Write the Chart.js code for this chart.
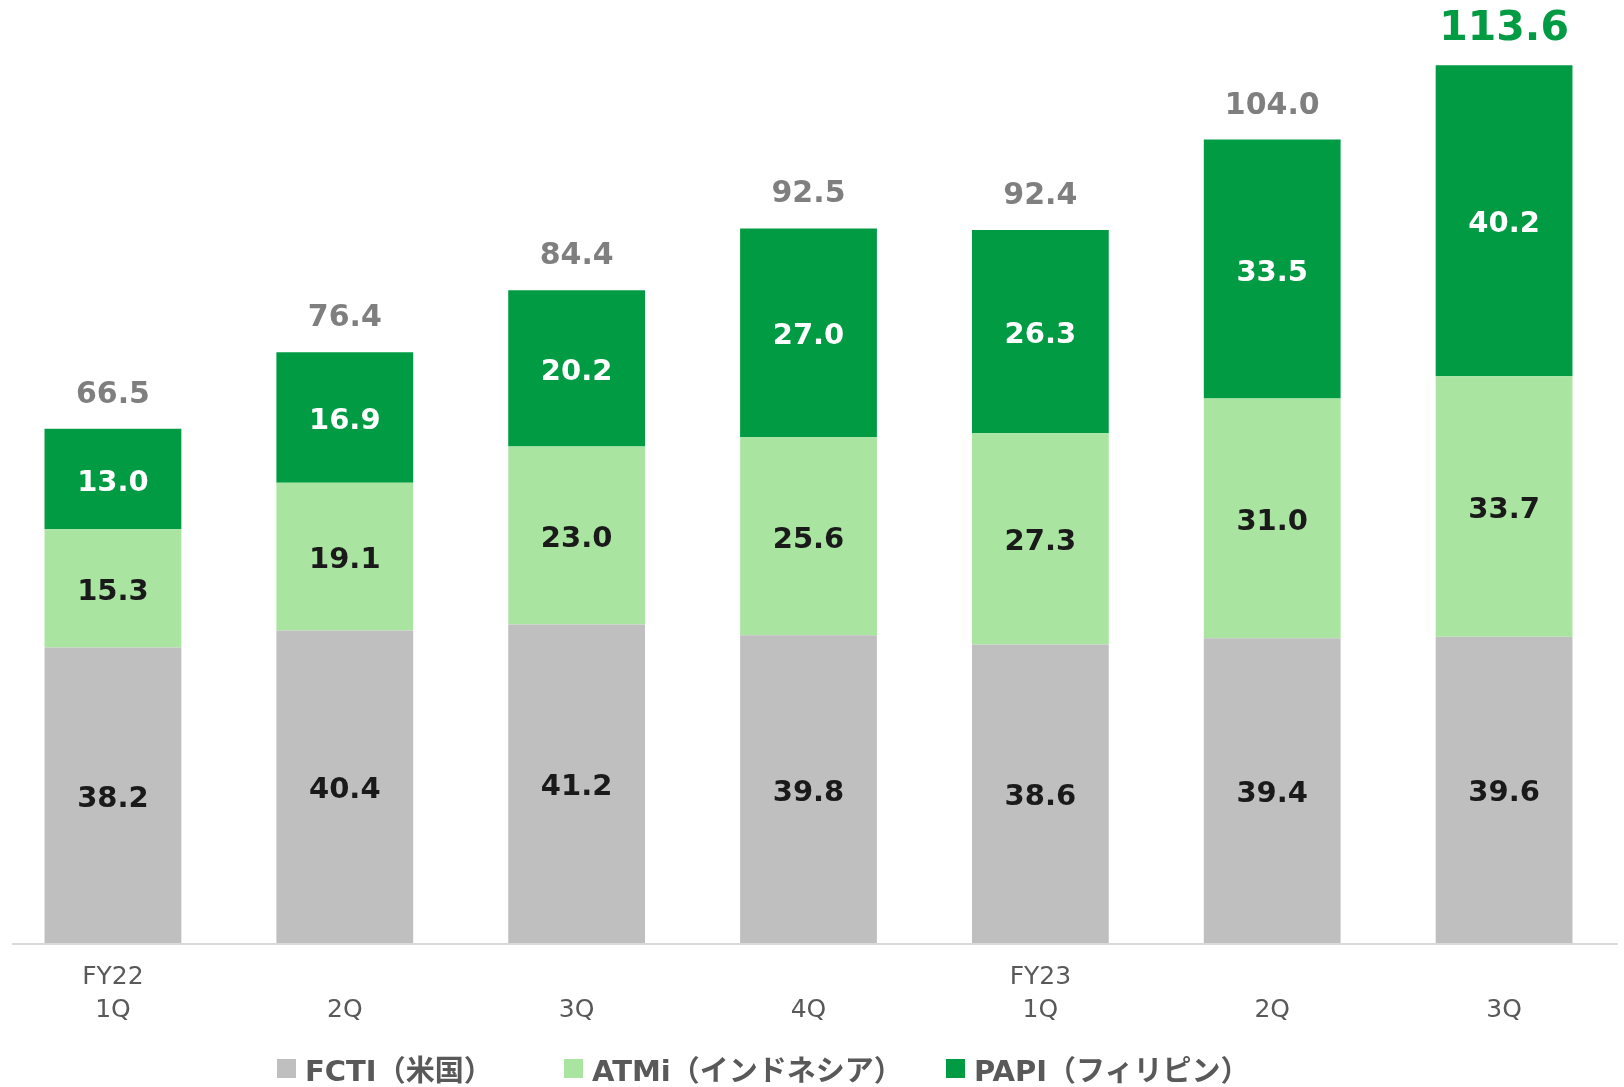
<!DOCTYPE html>
<html lang="ja">
<head>
<meta charset="utf-8">
<script src="https://cdn.jsdelivr.net/npm/chart.js@4/dist/chart.umd.min.js"></script>
<style>
  html, body { margin: 0; padding: 0; background: #fff; }
  #wrap { position: relative; width: 1624px; height: 1087px; overflow: hidden; }
  #chart { position: absolute; left: -3px; top: 0; }
  #legend { position: absolute; left: 0; top: 1052px; width: 1624px; height: 32px;
    font-family: 'DejaVu Sans', 'Noto Sans CJK JP', sans-serif; font-weight: bold; font-size: 29px; color: #595959; }
  .item { position: absolute; top: 0; display: flex; align-items: center; height: 32px; white-space: nowrap; }
  .item i { display: inline-block; width: 19px; height: 19px; margin-right: 9px; }
</style>
</head>
<body>
<div id="wrap">
  <canvas id="chart" width="1627" height="1087"></canvas>
  <div id="legend"></div>
</div>
<script>
// 四半期ごとの内訳（単位は読み取り値）
const periods = [['FY22', '1Q'], ['', '2Q'], ['', '3Q'], ['', '4Q'], ['FY23', '1Q'], ['', '2Q'], ['', '3Q']];
const fcti = [38.2, 40.4, 41.2, 39.8, 38.6, 39.4, 39.6];
const atmi = [15.3, 19.1, 23.0, 25.6, 27.3, 31.0, 33.7];
const papi = [13.0, 16.9, 20.2, 27.0, 26.3, 33.5, 40.2];
const totals = [66.5, 76.4, 84.4, 92.5, 92.4, 104.0, 113.6];
const seriesNames = ['FCTI（米国）', 'ATMi（インドネシア）', 'PAPI（フィリピン）'];

const colors = ['#BFBFBF', '#A9E5A0', '#009B43'];
const textColors = ['#1A1A1A', '#1A1A1A', '#FFFFFF'];
const FONT = "'DejaVu Sans', 'Noto Sans CJK JP', sans-serif";

/**
 * 棒の中と上に数値を描くプラグイン
 */
const valueLabels = {
  id: 'valueLabels',
  afterDatasetsDraw(chart) {
    const ctx = chart.ctx;
    ctx.save();
    ctx.textAlign = 'center';
    chart.data.datasets.forEach((ds, di) => {
      const meta = chart.getDatasetMeta(di);
      meta.data.forEach((bar, i) => {
        ctx.font = 'bold 29px ' + FONT;
        ctx.fillStyle = textColors[di];
        ctx.textBaseline = 'middle';
        ctx.fillText(ds.data[i].toFixed(1), bar.x, (bar.y + bar.base) / 2 + 4);
      });
    });
    // 合計
    const top = chart.getDatasetMeta(chart.data.datasets.length - 1);
    top.data.forEach((bar, i) => {
      const last = i === totals.length - 1;
      ctx.font = 'bold ' + (last ? 41 : 30) + 'px ' + FONT;
      ctx.fillStyle = last ? '#009B43' : '#7F7F7F';
      ctx.textBaseline = 'alphabetic';
      ctx.fillText(totals[i].toFixed(1), bar.x, bar.y - (last ? 25 : 26));
    });
    ctx.restore();
  }
};

/**
 * 下の軸線（キャンバスは左に3px ずらしてある）
 */
const baseLine = {
  id: 'baseLine',
  afterDatasetsDraw(chart) {
    const ctx = chart.ctx;
    const y = chart.scales.y.getPixelForValue(0);
    ctx.save();
    ctx.strokeStyle = '#D9D9D9';
    ctx.lineWidth = 2;
    ctx.beginPath();
    ctx.moveTo(15, y + 1);
    ctx.lineTo(1621, y + 1);
    ctx.stroke();
    ctx.restore();
  }
};

const seriesData = [fcti, atmi, papi];

new Chart(document.getElementById('chart').getContext('2d'), {
  type: 'bar',
  data: {
    labels: periods,
    datasets: seriesData.map((d, i) => ({
      label: seriesNames[i],
      data: d,
      backgroundColor: colors[i],
      borderWidth: 0,
      barPercentage: 0.59,
      categoryPercentage: 1
    }))
  },
  options: {
    responsive: false,
    animation: false,
    devicePixelRatio: 1,
    layout: { padding: { top: 15, left: 0, right: 4, bottom: 42 } },
    plugins: {
      legend: { display: false },
      tooltip: { enabled: false }
    },
    scales: {
      x: {
        stacked: true,
        grid: { display: false, drawTicks: false },
        border: { display: false },
        ticks: {
          padding: 18,
          color: '#595959',
          font: { family: FONT, size: 25, lineHeight: 1.32 },
          maxRotation: 0,
          autoSkip: false
        }
      },
      y: {
        stacked: true,
        display: false,
        min: 0,
        max: 120
      }
    }
  },
  plugins: [valueLabels, baseLine]
});

// 凡例（HTML）
const legendLeft = [277, 564, 946];
const legend = document.getElementById('legend');
seriesNames.forEach((name, i) => {
  const el = document.createElement('div');
  el.className = 'item';
  el.style.left = legendLeft[i] + 'px';
  el.innerHTML = `<i style="background:${colors[i]}"></i><span>${name}</span>`;
  legend.appendChild(el);
});
</script>
</body>
</html>
